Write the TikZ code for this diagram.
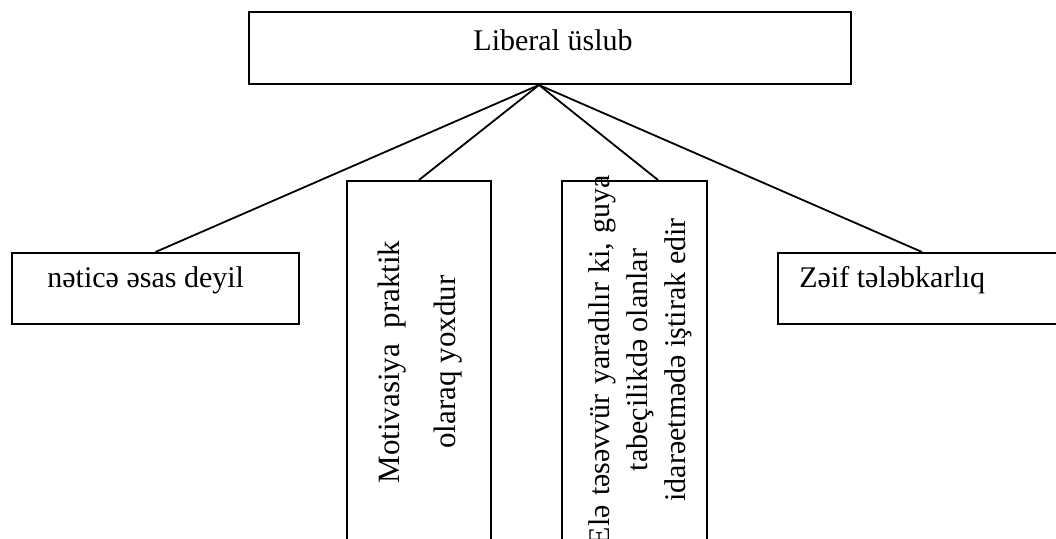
\documentclass[tikz,border=0pt]{standalone}
\usepackage{fontspec}
\setmainfont{Liberation Serif}
\tikzset{
  kutu/.style={draw=black, line width=1pt, inner sep=0pt},
  yazi/.style={font=\fontsize{15}{18}\selectfont, inner sep=0pt},
  xett/.style={black, line width=0.9pt}
}
\begin{document}
\begin{tikzpicture}[x=0.5pt, y=-0.5pt]
  \useasboundingbox (0,0) rectangle (1056,539);

  %–– Yuxari qutu ––
  \node[kutu, minimum width=301pt, minimum height=36pt] (ust) at (550,48) {};
  \node[yazi, anchor=base] (usttxt) at (553,51) {Liberal üslub};
  \coordinate (tepe) at ([xshift=-5.5pt]ust.south);

  %–– Asagi qutular ––
  \node[kutu, minimum width=143.5pt, minimum height=35.5pt] (n1) at (155.5,288.5) {};
  \node[kutu, minimum width=72pt, minimum height=189.5pt] (n2) at (419,370.5) {};
  \node[kutu, minimum width=72.5pt, minimum height=189.5pt] (n3) at (634.5,370.5) {};
  \node[kutu, minimum width=144pt, minimum height=35.5pt] (n4) at (922,288.5) {};

  %–– Yazilar ––
  \node[yazi, anchor=base west] (n1txt) at (47,288) {nəticə əsas deyil};
  \node[yazi, rotate=90, align=center, font=\fontsize{15.5}{18}\selectfont] (n2txt) at (420,362)
    {Motivasiya\ \ praktik\\[10pt]olaraq yoxdur};
  \node[yazi, rotate=90, align=center, font=\fontsize{15}{19}\selectfont] (n3txt) at (640,360)
    {Elə\kern1pt\ təsəvvür\kern1pt\ yaradılır\kern1pt\ ki,\kern1pt\ guya\\tabeçilikdə olanlar\\idarəetmədə iştirak edir};
  \node[yazi, anchor=base west] (n4txt) at (799,288) {Zəif tələbkarlıq};

  %–– Xetler ––
  \draw[xett] (tepe) -- (n1.north);
  \draw[xett] (tepe) -- (n2.north);
  \draw[xett] (tepe) -- ([xshift=11.75pt]n3.north);
  \draw[xett] (tepe) -- (n4.north);
\end{tikzpicture}
\end{document}
